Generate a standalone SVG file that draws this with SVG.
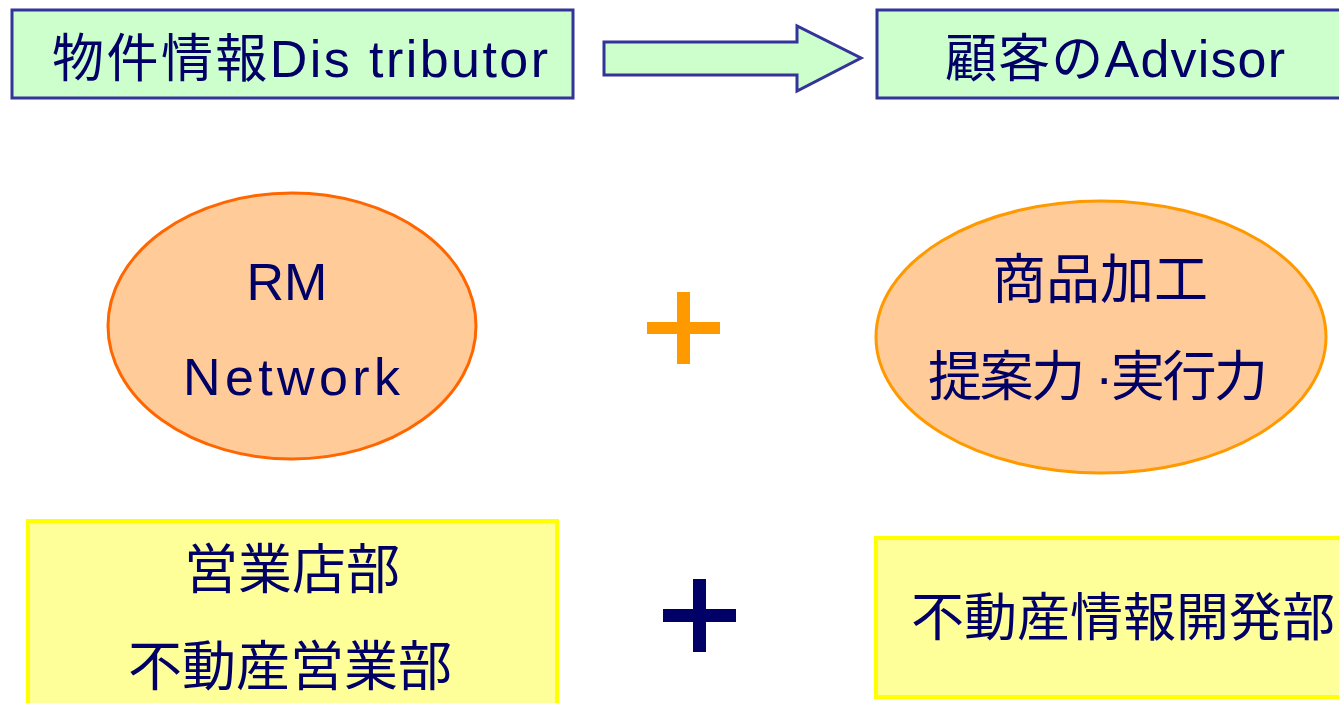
<svg xmlns="http://www.w3.org/2000/svg" width="1339" height="703" viewBox="0 0 1339 703">
<style>
text{font-family:"Liberation Sans","Noto Sans CJK JP",sans-serif;fill:#000066;font-size:52px}
.big{font-size:54px}
.gbox{fill:#CCFFCC;stroke:#333399;stroke-width:3}
.ybox{fill:#FFFF99;stroke:#FFFF00;stroke-width:4}
.ell{fill:#FFCC99;stroke-width:3}
.c{text-anchor:middle}
</style>
<rect width="1339" height="703" fill="#ffffff"/>
<g id="distributor">
<rect class="gbox" x="12" y="10" width="561" height="88"/>
<text x="52" y="77" textLength="496" lengthAdjust="spacing">物件情報Dis tributor</text>
</g>
<g id="connectors">
<polygon class="gbox" points="604,42 797,42 797,26 861,58 797,91 797,75 604,75"/>
</g>
<g id="advisor">
<rect class="gbox" x="877" y="10" width="470" height="88"/>
<text x="945" y="77" textLength="340" lengthAdjust="spacing">顧客のAdvisor</text>
</g>
<g id="rm">
<ellipse class="ell" cx="292" cy="326" rx="184" ry="133" stroke="#FF6600"/>
<text class="c" x="287" y="300">RM</text>
<text x="183" y="395" textLength="217" lengthAdjust="spacing">Network</text>
</g>
<g id="plus1">
<rect x="677" y="292" width="13" height="72" fill="#FF9900"/>
<rect x="647" y="322" width="73" height="12" fill="#FF9900"/>
</g>
<g id="shohin">
<ellipse class="ell" cx="1101" cy="337" rx="225" ry="136" stroke="#FF9900"/>
<text class="c big" x="1100" y="299">商品加工</text>
<text class="big" x="928" y="396" textLength="340" lengthAdjust="spacing">提案力 ·実行力</text>
</g>
<g id="eigyo">
<rect class="ybox" x="28" y="521" width="529" height="195"/>
<text class="c big" x="292" y="589">営業店部</text>
<text class="c big" x="290" y="686">不動産営業部</text>
</g>
<g id="plus2">
<rect x="693" y="579" width="13" height="73" fill="#000066"/>
<rect x="663" y="609" width="73" height="13" fill="#000066"/>
</g>
<g id="kaihatsu">
<rect class="ybox" x="876" y="538" width="475" height="159"/>
<text x="911" y="636" font-size="53" textLength="424" lengthAdjust="spacingAndGlyphs">不動産情報開発部</text>
</g>
</svg>
